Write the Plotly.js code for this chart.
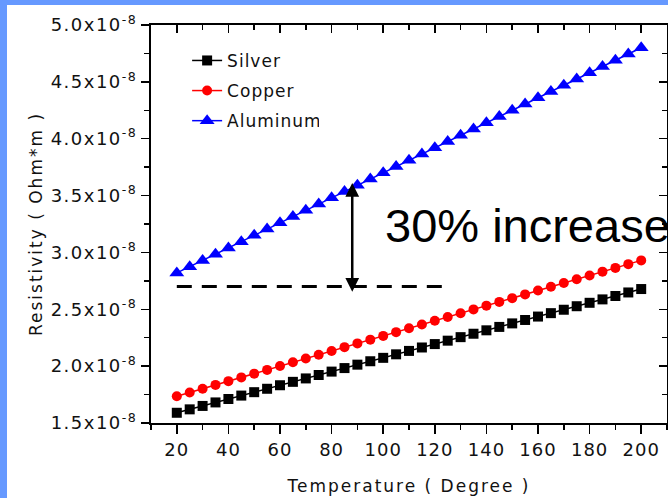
<!DOCTYPE html>
<html><head><meta charset="utf-8">
<script src="https://cdn.plot.ly/plotly-3.0.1.min.js"></script>
<style>
html,body{margin:0;padding:0;background:#6699ff;width:668px;height:498px;overflow:hidden;}
#chart{position:absolute;left:7px;top:5px;width:661px;height:493px;background:#fff;}
#chart .g-ytitle text, #chart .g-xtitle text{letter-spacing:2px;}
#chart .ytick text{letter-spacing:1.5px;}
#chart .xtick text{letter-spacing:1px;}
#chart .legendtext{letter-spacing:1px;}
</style></head><body><div id="chart"></div>
<script>
// Temperature (degree) and resistivity values in units of 1e-8 Ohm*m
const temperature = [20,25,30,35,40,45,50,55,60,65,70,75,80,85,90,95,100,105,110,115,120,125,130,135,140,145,150,155,160,165,170,175,180,185,190,195,200];
const silver = [1.590,1.620,1.650,1.681,1.711,1.741,1.771,1.801,1.832,1.862,1.892,1.922,1.952,1.983,2.013,2.043,2.073,2.104,2.134,2.164,2.194,2.224,2.255,2.285,2.315,2.345,2.376,2.406,2.436,2.466,2.496,2.527,2.557,2.587,2.617,2.648,2.678];
const copper = [1.735,1.768,1.801,1.835,1.868,1.901,1.934,1.967,2.001,2.034,2.067,2.100,2.133,2.167,2.200,2.233,2.266,2.299,2.333,2.366,2.399,2.432,2.465,2.499,2.532,2.565,2.598,2.631,2.665,2.698,2.731,2.764,2.797,2.831,2.864,2.897,2.930];
const aluminum = [2.820,2.875,2.930,2.985,3.040,3.095,3.150,3.205,3.260,3.315,3.370,3.425,3.480,3.535,3.590,3.645,3.700,3.755,3.810,3.865,3.920,3.975,4.030,4.085,4.140,4.195,4.250,4.305,4.360,4.415,4.470,4.525,4.580,4.635,4.690,4.745,4.800];
const seriesNames = ['Silver','Copper','Aluminum'];
// reference (dashed) line and the increase arrow
const refLineX = [20,125];
const refLineY = [2.70,2.70];
const arrowX = 88;
const arrowTop = 3.61;
const arrowBottom = 2.64;
const labelText = '30% increase';
const labelX = 100;
const labelY = 3.24;
const xTitle = 'Temperature ( Degree )';
const yTitle = 'Resistivity ( Ohm*m )';

const tickFont = {family:'DejaVu Sans, Arial, sans-serif', size:18, color:'#111'};
const titleFont = {family:'DejaVu Sans, Arial, sans-serif', size:17, color:'#111'};
const colors = ['#000000','#ff0000','#0000ff'];
const symbols = ['square','circle','triangle-up'];
const sizes = [10,10,13];
const ys = [silver, copper, aluminum];

const traces = ys.map((y,i)=>({
  x: temperature, y: y, name: seriesNames[i], type:'scatter', mode:'lines+markers',
  legendgroup: 'g'+i,
  line:{color:colors[i], width:1.5},
  marker:{symbol:symbols[i], size:sizes[i], color:colors[i], line:{width:0}}
}));
traces.push({x:refLineX, y:refLineY, type:'scatter', mode:'lines', showlegend:false, hoverinfo:'skip',
  line:{color:'#000', width:3, dash:'15px,10px'}});
traces.push({x:[null], y:[null], xaxis:'x2', yaxis:'y2', type:'scatter', mode:'markers', showlegend:false, hoverinfo:'skip'});

const common = {showgrid:false, zeroline:false, showline:true, linecolor:'#000', linewidth:2,
  tickcolor:'#000', tickwidth:1.5, automargin:false};

const layout = {
  width:661, height:493,
  margin:{l:144, r:1, t:20, b:75},
  paper_bgcolor:'#fff', plot_bgcolor:'#fff',
  showlegend:true,
  legend:{x:0.07, y:0.955, xanchor:'left', yanchor:'top', bgcolor:'rgba(0,0,0,0)',
    font:{family:'DejaVu Sans, Arial, sans-serif', size:17, color:'#111'},
    traceorder:'grouped', tracegroupgap:5},
  xaxis: Object.assign({}, common, {range:[10,210], tick0:0, dtick:20, ticks:'outside', ticklen:9,
    minor:{ticks:'outside', dtick:10, tick0:0, ticklen:5, tickwidth:1.5, tickcolor:'#000'},
    tickfont:tickFont, title:{text:xTitle, font:titleFont, standoff:22}}),
  yaxis: Object.assign({}, common, {range:[1.5,5.0], tick0:1.5, dtick:0.5, ticks:'outside', ticklen:8,
    tickformat:'.1f', ticksuffix:'x10<sup>-8</sup>',
    minor:{ticks:'outside', dtick:0.25, tick0:1.5, ticklen:5, tickwidth:1.5, tickcolor:'#000'},
    tickfont:tickFont, title:{text:yTitle, font:titleFont, standoff:16}}),
  xaxis2: Object.assign({}, common, {overlaying:'x', side:'top', anchor:'y', range:[10,210], tick0:0, dtick:20,
    ticks:'inside', ticklen:8, showticklabels:false,
    minor:{ticks:'inside', dtick:10, tick0:0, ticklen:5, tickwidth:1.5, tickcolor:'#000'}}),
  yaxis2: Object.assign({}, common, {overlaying:'y', side:'right', anchor:'x', range:[1.5,5.0], tick0:1.5, dtick:0.5,
    ticks:'inside', ticklen:8, showticklabels:false,
    minor:{ticks:'inside', dtick:0.25, tick0:1.5, ticklen:5, tickwidth:1.5, tickcolor:'#000'}}),
  annotations:[
    {x:arrowX, y:arrowTop, ax:arrowX, ay:arrowBottom, xref:'x', yref:'y', axref:'x', ayref:'y',
     showarrow:true, arrowhead:2, startarrowhead:2, arrowside:'end+start', arrowsize:1.1, startarrowsize:1.1,
     arrowwidth:2.5, arrowcolor:'#000', text:''},
    {x:labelX, y:labelY, xref:'x', yref:'y', text:labelText, showarrow:false, xanchor:'left', yanchor:'middle',
     font:{family:'Liberation Sans, Arial, sans-serif', size:47, color:'#000'}}
  ]
};
Plotly.newPlot('chart', traces, layout, {displayModeBar:false, staticPlot:true});
</script></body></html>
